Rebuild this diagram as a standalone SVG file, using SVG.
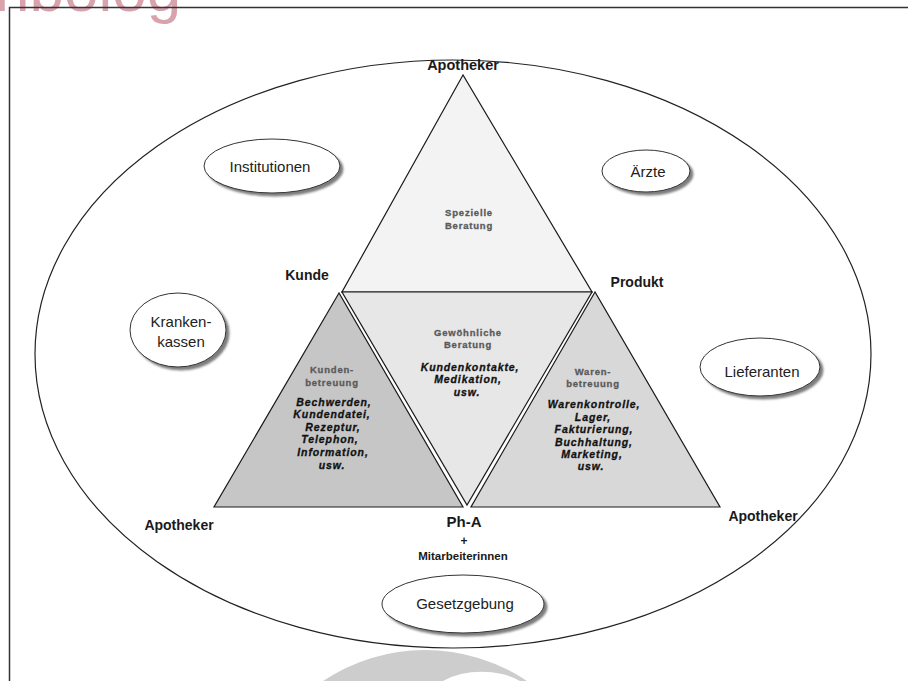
<svg xmlns="http://www.w3.org/2000/svg" width="908" height="681" viewBox="0 0 908 681">
<defs>
<filter id="sh" x="-20%" y="-20%" width="140%" height="150%"><feDropShadow dx="3" dy="3" stdDeviation="1.3" flood-color="#666" flood-opacity="0.85"/></filter>
<style>
.tri{stroke:#1a1a1a;stroke-width:1.2;stroke-linejoin:miter}
.lbl{font-family:"Liberation Sans",Arial,sans-serif;font-weight:bold;font-size:14px;fill:#1a1a1a;text-anchor:middle}
.el{fill:#fff;stroke:#333;stroke-width:1;filter:url(#sh)}
.et{font-family:"Liberation Sans",Arial,sans-serif;font-size:15px;fill:#222;text-anchor:middle}
.hd{font-family:"Liberation Sans",Arial,sans-serif;font-weight:bold;font-size:9.5px;fill:#5a5a5a;stroke:#5a5a5a;stroke-width:0.3px;text-anchor:middle;letter-spacing:0.8px}
.it{font-family:"Liberation Sans",Arial,sans-serif;font-weight:bold;font-style:italic;font-size:10.5px;fill:#111;stroke:#111;stroke-width:0.3px;text-anchor:middle;letter-spacing:0.9px}
</style>
</defs>
<rect width="908" height="681" fill="#fff"/>
<text x="-5" y="11" font-family="'Liberation Sans',Arial,sans-serif" font-size="62" fill="#d9a3ae">nbolog</text>
<path d="M323,681 A183,183 0 0 1 527,681 L520,681 A60,40 0 0 0 443,681 Z" fill="#cdcdcd"/>
<rect x="9.5" y="7.5" width="910" height="690" fill="none" stroke="#333" stroke-width="1.5"/>
<ellipse cx="453" cy="354" rx="418" ry="294" fill="none" stroke="#222" stroke-width="1.2"/>

<g id="connectors"></g>

<g id="tri-top"><polygon class="tri" points="463,75 342,292 592,292" fill="#f3f3f3"/>
<text class="hd" x="469" y="216">Spezielle</text><text class="hd" x="469" y="229">Beratung</text></g>
<g id="tri-mid"><polygon class="tri" points="342,292 592,292 467,505" fill="#e7e7e7"/>
<text class="hd" x="468" y="336">Gewöhnliche</text><text class="hd" x="468" y="348">Beratung</text>
<text class="it" x="470" y="371">Kundenkontakte,</text><text class="it" x="468" y="383">Medikation,</text><text class="it" x="467" y="396">usw.</text></g>
<g id="tri-left"><polygon class="tri" points="339,293 214,507 463,507" fill="#c6c6c6"/>
<text class="hd" x="332" y="373">Kunden-</text><text class="hd" x="332" y="386">betreuung</text>
<text class="it" x="334" y="406">Bechwerden,</text><text class="it" x="332" y="418">Kundendatei,</text><text class="it" x="333" y="431">Rezeptur,</text><text class="it" x="330" y="443">Telephon,</text><text class="it" x="333" y="456">Information,</text><text class="it" x="332" y="469">usw.</text></g>
<g id="tri-right"><polygon class="tri" points="595,292 471,507 720,507" fill="#d8d8d8"/>
<text class="hd" x="593" y="375">Waren-</text><text class="hd" x="593" y="387">betreuung</text>
<text class="it" x="594" y="408">Warenkontrolle,</text><text class="it" x="593" y="421">Lager,</text><text class="it" x="594" y="433">Fakturierung,</text><text class="it" x="594" y="446">Buchhaltung,</text><text class="it" x="592" y="458">Marketing,</text><text class="it" x="591" y="470">usw.</text></g>

<g id="labels">
<text class="lbl" x="463" y="70" style="font-size:14.5px">Apotheker</text>
<text class="lbl" x="307" y="280">Kunde</text>
<text class="lbl" x="637" y="287">Produkt</text>
<text class="lbl" x="179" y="530">Apotheker</text>
<text class="lbl" x="763" y="521">Apotheker</text>
<text class="lbl" x="464" y="527" style="font-size:15px">Ph-A</text>
<text class="lbl" x="464" y="545" style="font-size:12px">+</text>
<text class="lbl" x="463" y="560" style="font-size:11.5px">Mitarbeiterinnen</text>
</g>

<g id="n-institutionen"><ellipse class="el" cx="272" cy="166" rx="68" ry="27"/><text class="et" x="270" y="172">Institutionen</text></g>
<g id="n-aerzte"><ellipse class="el" cx="646" cy="171" rx="44" ry="21"/><text class="et" x="648" y="177">Ärzte</text></g>
<g id="n-krankenkassen"><ellipse class="el" cx="178" cy="330" rx="48" ry="37"/><text class="et" x="181" y="327">Kranken-</text><text class="et" x="181" y="347">kassen</text></g>
<g id="n-lieferanten"><ellipse class="el" cx="760" cy="367" rx="60" ry="29"/><text class="et" x="762" y="377">Lieferanten</text></g>
<g id="n-gesetzgebung"><ellipse class="el" cx="463" cy="604" rx="81" ry="29"/><text class="et" x="465" y="609">Gesetzgebung</text></g>
</svg>
